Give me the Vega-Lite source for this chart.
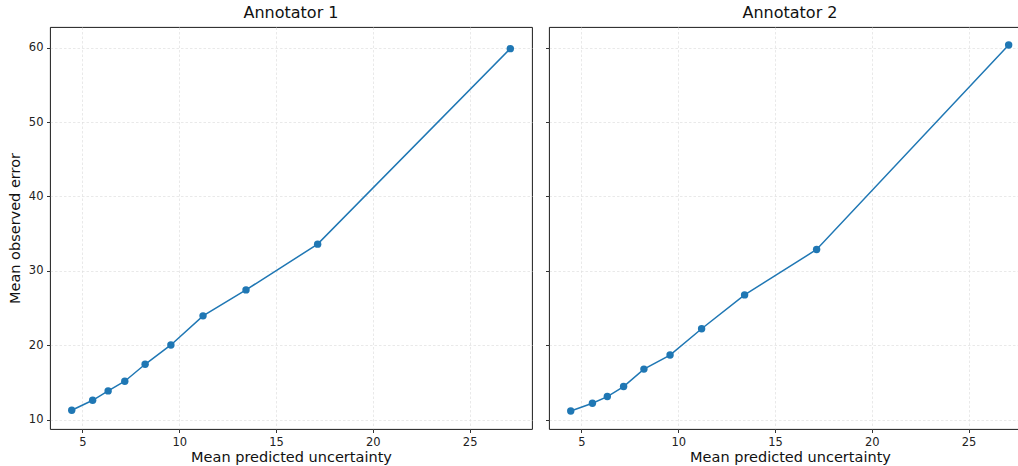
{
  "$schema": "https://vega.github.io/schema/vega-lite/v6.json",
  "autosize": {"type": "pad"},
  "padding": {"left": 6, "top": 4, "right": 0, "bottom": 0},
  "background": "white",
  "datasets": {
    "calib": [
      {"annotator": "Annotator 1", "uncertainty": 4.45, "error": 11.26},
      {"annotator": "Annotator 1", "uncertainty": 5.53, "error": 12.6},
      {"annotator": "Annotator 1", "uncertainty": 6.33, "error": 13.86},
      {"annotator": "Annotator 1", "uncertainty": 7.19, "error": 15.16},
      {"annotator": "Annotator 1", "uncertainty": 8.24, "error": 17.44},
      {"annotator": "Annotator 1", "uncertainty": 9.57, "error": 20.04},
      {"annotator": "Annotator 1", "uncertainty": 11.23, "error": 23.95},
      {"annotator": "Annotator 1", "uncertainty": 13.45, "error": 27.44},
      {"annotator": "Annotator 1", "uncertainty": 17.15, "error": 33.59},
      {"annotator": "Annotator 1", "uncertainty": 27.1, "error": 59.87},
      {"annotator": "Annotator 2", "uncertainty": 4.45, "error": 11.17},
      {"annotator": "Annotator 2", "uncertainty": 5.57, "error": 12.21},
      {"annotator": "Annotator 2", "uncertainty": 6.34, "error": 13.1},
      {"annotator": "Annotator 2", "uncertainty": 7.18, "error": 14.45},
      {"annotator": "Annotator 2", "uncertainty": 8.23, "error": 16.79},
      {"annotator": "Annotator 2", "uncertainty": 9.58, "error": 18.68},
      {"annotator": "Annotator 2", "uncertainty": 11.21, "error": 22.22},
      {"annotator": "Annotator 2", "uncertainty": 13.43, "error": 26.77},
      {"annotator": "Annotator 2", "uncertainty": 17.15, "error": 32.87},
      {"annotator": "Annotator 2", "uncertainty": 27.07, "error": 60.36}
    ]
  },
  "data": {"name": "calib"},
  "spacing": 11,
  "config": {
    "font": "DejaVu Sans",
    "view": {"stroke": "#000000", "strokeWidth": 0.9},
    "axis": {
      "domain": false,
      "tickColor": "#000000",
      "tickSize": 3.5,
      "tickWidth": 0.8,
      "labelFont": "DejaVu Sans",
      "labelFontSize": 11.5,
      "labelColor": "#222222",
      "labelPadding": 3.5,
      "titleFont": "DejaVu Sans",
      "titleFontSize": 14.5,
      "titleFontWeight": "normal",
      "titleColor": "#111111",
      "grid": true,
      "gridColor": "#e0e0e0",
      "gridWidth": 0.7,
      "gridDash": [2.5, 2]
    },
    "title": {
      "font": "DejaVu Sans",
      "fontSize": 16,
      "fontWeight": "normal",
      "color": "#111111",
      "anchor": "middle",
      "baseline": "alphabetic",
      "offset": 6
    }
  },
  "hconcat": [
    {
      "title": {"text": "Annotator 1"},
      "width": 482,
      "height": 402,
      "transform": [{"filter": "datum.annotator === 'Annotator 1'"}],
      "encoding": {
        "x": {
          "field": "uncertainty",
          "type": "quantitative",
          "scale": {"domain": [3.327, 28.22], "nice": false, "zero": false},
          "axis": {"values": [5, 10, 15, 20, 25], "title": "Mean predicted uncertainty", "titlePadding": 3}
        },
        "y": {
          "field": "error",
          "type": "quantitative",
          "scale": {"domain": [8.74, 62.78], "nice": false, "zero": false},
          "axis": {"values": [10, 20, 30, 40, 50, 60], "title": "Mean observed error", "titlePadding": 6}
        }
      },
      "layer": [
        {"mark": {"type": "line", "color": "#1f77b4", "strokeWidth": 1.5}},
        {"mark": {"type": "point", "filled": true, "opacity": 1, "color": "#1f77b4", "size": 55}}
      ]
    },
    {
      "title": {"text": "Annotator 2", "dx": 6},
      "width": 470,
      "height": 402,
      "transform": [{"filter": "datum.annotator === 'Annotator 2'"}],
      "encoding": {
        "x": {
          "field": "uncertainty",
          "type": "quantitative",
          "scale": {"domain": [3.327, 27.604], "nice": false, "zero": false},
          "axis": {"values": [5, 10, 15, 20, 25], "title": "Mean predicted uncertainty", "titlePadding": 3, "titleX": 241}
        },
        "y": {
          "field": "error",
          "type": "quantitative",
          "scale": {"domain": [8.74, 62.78], "nice": false, "zero": false},
          "axis": {"values": [10, 20, 30, 40, 50, 60], "title": null, "labels": false}
        }
      },
      "layer": [
        {"mark": {"type": "line", "color": "#1f77b4", "strokeWidth": 1.5}},
        {"mark": {"type": "point", "filled": true, "opacity": 1, "color": "#1f77b4", "size": 55}}
      ]
    }
  ]
}
